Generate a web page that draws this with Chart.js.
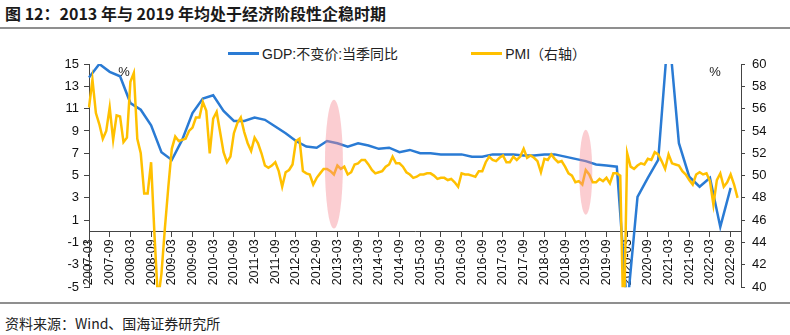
<!DOCTYPE html>
<html lang="zh">
<head>
<meta charset="utf-8">
<title>GDP与PMI</title>
<script src="https://cdn.jsdelivr.net/npm/chart.js@4.4.1/dist/chart.umd.min.js"></script>
<style>
  html, body { margin: 0; padding: 0; background: #fff; }
  body { width: 790px; height: 335px; position: relative; overflow: hidden;
         font-family: "Liberation Sans", "Noto Sans CJK SC", sans-serif; }
  #title { position: absolute; left: 5px; top: 1px; font: bold 16px "Noto Sans CJK SC"; color: #1a1a1a; white-space: nowrap; }
  .rule { position: absolute; left: 0; width: 790px; height: 2px; background: #8f8f8f; }
  #legend { position: absolute; left: 228px; top: 43px; display: flex; gap: 73px; font-size: 14px; color: #222; white-space: nowrap; }
  .item { display: flex; align-items: center; }
  .swatch { display: inline-block; width: 31px; height: 3px; margin-right: 3px; }
  #box { position: absolute; left: 0; top: 30px; width: 790px; height: 272px; }
  #source { position: absolute; left: 5px; top: 313px; font: 14px "Noto Sans CJK SC"; color: #222; white-space: nowrap; }
</style>
</head>
<body>
<div id="title">图 12：2013 年与 2019 年均处于经济阶段性企稳时期</div>
<div class="rule" style="top:27px"></div>
<div id="legend"></div>
<div id="box"><canvas id="chart" width="790" height="272"></canvas></div>
<div class="rule" style="top:302px"></div>
<div id="source">资料来源：Wind、国海证券研究所</div>

<script>
// Monatsachse 2007-03 .. 2022-12
const startYear = 2007, startMonth = 3, endYear = 2022, endMonth = 12;
const months = [];
for (let y = startYear; y <= endYear; y++) {
  for (let m = 1; m <= 12; m++) {
    if (y === startYear && m < startMonth) continue;
    if (y === endYear && m > endMonth) break;
    months.push(y + '-' + String(m).padStart(2, '0'));
  }
}

// GDP:不变价:当季同比 (%), Quartale ab 2007-03
const gdpValues = [
  13.8, 15.0, 14.3, 13.9,
  11.5, 10.9, 9.5, 7.1,
  6.4, 8.2, 10.6, 11.9,
  12.2, 10.8, 9.9, 9.9,
  10.2, 10.0, 9.4, 8.8,
  8.1, 7.6, 7.5, 8.1,
  7.9, 7.6, 7.9, 7.7,
  7.4, 7.5, 7.1, 7.3,
  7.0, 7.0, 6.9, 6.9,
  6.9, 6.7, 6.7, 6.9,
  6.9, 6.9, 6.8, 6.8,
  6.9, 6.9, 6.7, 6.5,
  6.3, 6.0, 5.9, 5.8,
  -6.9, 3.1, 4.8, 6.4,
  18.3, 7.9, 4.9, 4.0,
  4.8, 0.4, 3.9
];

// PMI, monatlich ab 2007-03
const pmiValues = [
  56.1, 58.6, 55.6, 54.6, 53.3, 54.0, 56.1, 53.2, 55.4, 55.3,
  53.0, 53.4, 58.4, 59.2, 53.3, 52.0, 48.4, 48.4, 51.2, 44.6, 38.8, 41.2,
  45.3, 49.0, 52.4, 53.5, 53.1, 53.2, 53.3, 54.0, 54.3, 55.2, 55.2, 56.6,
  55.8, 52.0, 55.1, 55.7, 53.9, 52.1, 51.2, 51.7, 53.8, 54.7, 55.2, 53.9,
  52.9, 52.2, 53.4, 52.9, 52.0, 50.9, 50.7, 50.9, 51.2, 50.4, 49.0, 50.3,
  50.5, 51.0, 53.1, 53.3, 50.4, 50.2, 50.1, 49.2, 49.8, 50.2, 50.6, 50.6,
  50.4, 50.1, 50.9, 50.6, 50.8, 50.1, 50.3, 51.0, 51.1, 51.4, 51.4, 51.0,
  50.5, 50.2, 50.3, 50.4, 50.8, 51.0, 51.7, 51.1, 51.1, 50.8, 50.3, 50.1,
  49.8, 49.9, 50.1, 50.1, 50.2, 50.2, 50.0, 49.7, 49.8, 49.8, 49.6, 49.7,
  49.4, 49.0, 50.2, 50.1, 50.1, 50.0, 49.9, 50.4, 50.4, 51.2, 51.7, 51.4,
  51.3, 51.6, 51.8, 51.2, 51.2, 51.7, 51.4, 51.7, 52.4, 51.6, 51.8, 51.6,
  51.3, 50.3, 51.5, 51.4, 51.9, 51.5, 51.2, 51.3, 50.8, 50.2, 50.0, 49.4,
  49.5, 49.2, 50.5, 50.1, 49.4, 49.4, 49.7, 49.5, 49.8, 49.3, 50.2, 50.2,
  50.0, 35.7, 52.0, 50.8, 50.6, 50.9, 51.1, 51.0, 51.5, 51.4, 52.1, 51.9,
  51.3, 50.6, 51.9, 51.1, 51.0, 50.9, 50.4, 50.1, 49.6, 49.2, 50.1, 50.3,
  50.1, 50.2, 49.5, 47.4, 49.6, 50.2, 49.0, 49.4, 50.1, 49.2, 48.0
];

// Achsenbeschriftung
const leftTicks = [-5, -3, -1, 1, 3, 5, 7, 9, 11, 13, 15];
const rightTicks = [40, 42, 44, 46, 48, 50, 52, 54, 56, 58, 60];

// Markierte Phasen (Monat, GDP-Achse von/bis)
const highlightMonths = ['2013-02', '2019-03'];
const highlightRanges = [[0.25, 11.8], [1.5, 9.1]];

const ellipseHalfWidth = [9, 6.5];
const axisColor = '#444';
const tickFont = { family: 'Liberation Sans', size: 13 };

// GDP nur an Quartalsmonaten
const gdpPoints = gdpValues.map((v, i) => ({ x: months[3 * i], y: v }));

const extras = {
  id: 'extras',
  afterDatasetsDraw(chart) {
    const { ctx, chartArea, scales } = chart;
    ctx.save();
    ctx.fillStyle = 'rgba(245, 135, 145, 0.42)';
    highlightMonths.forEach((m, i) => {
      const cx = scales.x.getPixelForValue(months.indexOf(m));
      const top = scales.y.getPixelForValue(highlightRanges[i][1]);
      const bottom = scales.y.getPixelForValue(highlightRanges[i][0]);
      ctx.beginPath();
      ctx.ellipse(cx, (top + bottom) / 2, ellipseHalfWidth[i], (bottom - top) / 2, 0, 0, Math.PI * 2);
      ctx.fill();
    });
    // Einheiten
    ctx.fillStyle = '#222';
    ctx.font = '13px "Liberation Sans"';
    ctx.textAlign = 'center';
    ctx.textBaseline = 'middle';
    ctx.fillText('%', chartArea.left + 35, chartArea.top + 8);
    ctx.fillText('%', chartArea.right - 26, chartArea.top + 8);
    ctx.restore();
  }
};

const chart = new Chart(document.getElementById('chart'), {
  type: 'line',
  data: {
    labels: months,
    datasets: [
      { label: 'GDP:不变价:当季同比', data: gdpPoints, yAxisID: 'y',
        borderColor: '#2a7bd4', borderWidth: 2.5, pointRadius: 0, order: 1 },
      { label: 'PMI（右轴）', data: pmiValues, yAxisID: 'y2',
        borderColor: '#ffc000', borderWidth: 2.5, pointRadius: 0, order: 0 }
    ]
  },
  options: {
    responsive: false,
    animation: false,
    layout: { padding: { top: 34, bottom: 7, left: 0, right: 0 } },
    plugins: { legend: { display: false }, tooltip: { enabled: false } },
    scales: {
      x: {
        type: 'category',
        position: { y: 0 },
        grid: {
          drawOnChartArea: false,
          tickLength: 5,
          tickColor: c => (c.tick && c.tick.label) ? axisColor : 'transparent'
        },
        border: { color: axisColor },
        ticks: {
          autoSkip: false, minRotation: 90, maxRotation: 90, padding: 3,
          font: { family: 'Liberation Sans', size: 12.5 }, color: '#111',
          callback: (v, i) => (months[i].endsWith('-03') || months[i].endsWith('-09')) ? months[i] : null
        }
      },
      y: {
        position: 'left', min: -5, max: 15,
        afterBuildTicks: s => { s.ticks = leftTicks.map(v => ({ value: v })); },
        afterFit: s => { s.width = 89; },
        grid: { drawOnChartArea: false, tickLength: 5, tickColor: axisColor },
        border: { color: axisColor },
        ticks: { font: tickFont, color: '#111', padding: 5 }
      },
      y2: {
        position: 'right', min: 40, max: 60,
        afterBuildTicks: s => { s.ticks = rightTicks.map(v => ({ value: v })); },
        afterFit: s => { s.width = 49; },
        grid: { drawOnChartArea: false, tickLength: 4, tickColor: axisColor },
        border: { color: axisColor },
        ticks: { font: tickFont, color: '#111', padding: 7 }
      }
    }
  },
  plugins: [extras]
});

// Legende als HTML
const legend = document.getElementById('legend');
chart.data.datasets.forEach(ds => {
  const item = document.createElement('span');
  item.className = 'item';
  item.innerHTML = `<span class="swatch" style="background:${ds.borderColor}"></span>${ds.label}`;
  legend.appendChild(item);
});
</script>
</body>
</html>
